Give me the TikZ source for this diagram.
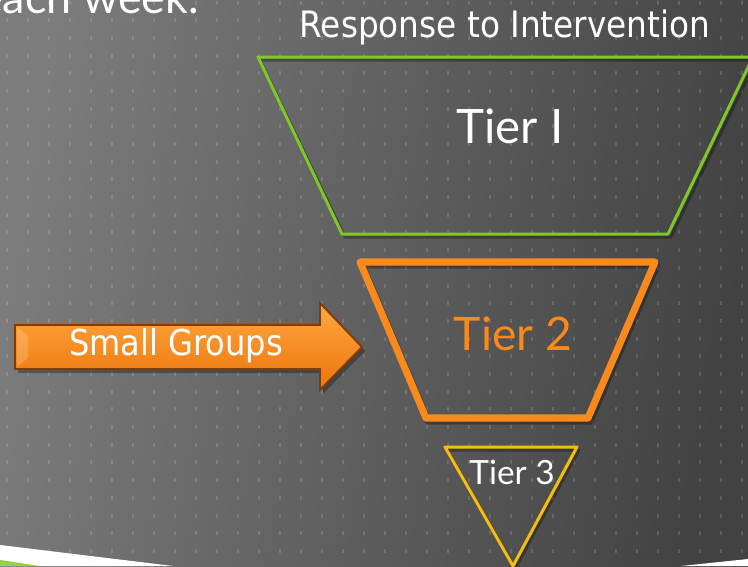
\documentclass[tikz,border=0pt]{standalone}
\usepackage{fontspec}
\setmainfont{Lato}
\newfontfamily\condfont{DejaVu Sans Condensed}
\usepackage{tikz}
\usetikzlibrary{positioning,calc}

\definecolor{bgleft}{RGB}{124,124,124}
\definecolor{bgright}{RGB}{66,66,66}
\definecolor{tiergreen}{RGB}{128,200,38}
\definecolor{tierorange}{RGB}{250,138,28}
\definecolor{tieryellow}{RGB}{245,190,10}
\definecolor{arrowedge}{RGB}{125,62,12}
\definecolor{arrowtop}{RGB}{255,168,66}
\definecolor{arrowbot}{RGB}{236,116,8}
\definecolor{stripgreen}{RGB}{146,208,80}

\begin{document}
\begin{tikzpicture}[x=0.02cm, y=-0.02cm,
    tierline/.style={line join=round},
    shadowline/.style={black, opacity=0.3, line join=round},
    tiertext/.style={white, inner sep=0pt, anchor=base}]

    \useasboundingbox (0,0) rectangle (748,566);
    \clip (0,0) rectangle (748,566);

    % background and dots
    \shade[left color=bgleft, right color=bgright, shading angle=80] (0,0) rectangle (748,566);
    \foreach \i in {0,...,35}
      \foreach \j in {0,...,31}
        \fill[white, opacity=0.14] ({6.3+21*\i},{0.5+17.69*\j}) rectangle +(2,4);

    % cut off title line
    \node[tiertext, anchor=base east] (week) at (199,13) {\fontsize{25.5}{30}\selectfont each week.};

    \node[tiertext] (rti) at (505,37) {\condfont\fontsize{20.7}{24}\selectfont Response to Intervention};

    % tier 1
    \draw[shadowline, line width=1.7pt] (260,60) -- (345,237) -- (671,237) -- (756,60) -- cycle;
    \draw[tierline, tiergreen, line width=1.7pt] (258,57) coordinate (t1a) -- (342,234) coordinate (t1b)
      -- (668,234) coordinate (t1c) -- (753,57) coordinate (t1d) -- cycle;
    \node[tiertext] (tier1) at (510,143) {\fontsize{27}{30}\selectfont Tier I};

    % tier 2
    \draw[shadowline, line width=4pt] (362,265) -- (428,421) -- (590,421) -- (657,265) -- cycle;
    \draw[tierline, tierorange, line width=4pt] (360,262) coordinate (t2a) -- (426,418) coordinate (t2b)
      -- (588,418) coordinate (t2c) -- (655,262) coordinate (t2d) -- cycle;
    \node[tiertext, tierorange] (tier2) at (513,350) {\fontsize{26.3}{30}\selectfont Tier 2};

    % tier 3
    \draw[shadowline, line width=1.7pt] (447,450) -- (515,569) -- (579,450) -- cycle;
    \draw[tierline, tieryellow, line width=1.7pt] (445,447) coordinate (t3a) -- (513,566) coordinate (t3b)
      -- (577,447) coordinate (t3c) -- cycle;
    \node[tiertext] (tier3) at (512,484) {\fontsize{19}{23}\selectfont Tier 3};

    % arrow
    \fill[black, opacity=0.3] (18,329) -- (323,329) -- (323,307) -- (365,351) -- (323,394) -- (323,373) -- (18,373) -- cycle;
    \draw[arrowedge, line width=1.1pt, line join=miter, top color=arrowtop, bottom color=arrowbot]
      (15,325) coordinate (tail) -- (320,325) -- (320,303) -- (362,347) coordinate (tip)
      -- (320,390) -- (320,369) -- (15,369) -- cycle;
    \fill[white, opacity=0.18] (17,327) -- (28,336) -- (28,358) -- (17,367) -- cycle;
    \node[tiertext] (groups) at (176,355) {\condfont\fontsize{20.3}{23}\selectfont Small Groups};

    % bottom edge
    \fill[white] (0,545) -- (173,566) -- (0,566) -- cycle;
    \fill[stripgreen] (0,560) -- (40,566) -- (0,566) -- cycle;
    \fill[white] (681,566) -- (748,559) -- (748,566) -- cycle;
\end{tikzpicture}
\end{document}
